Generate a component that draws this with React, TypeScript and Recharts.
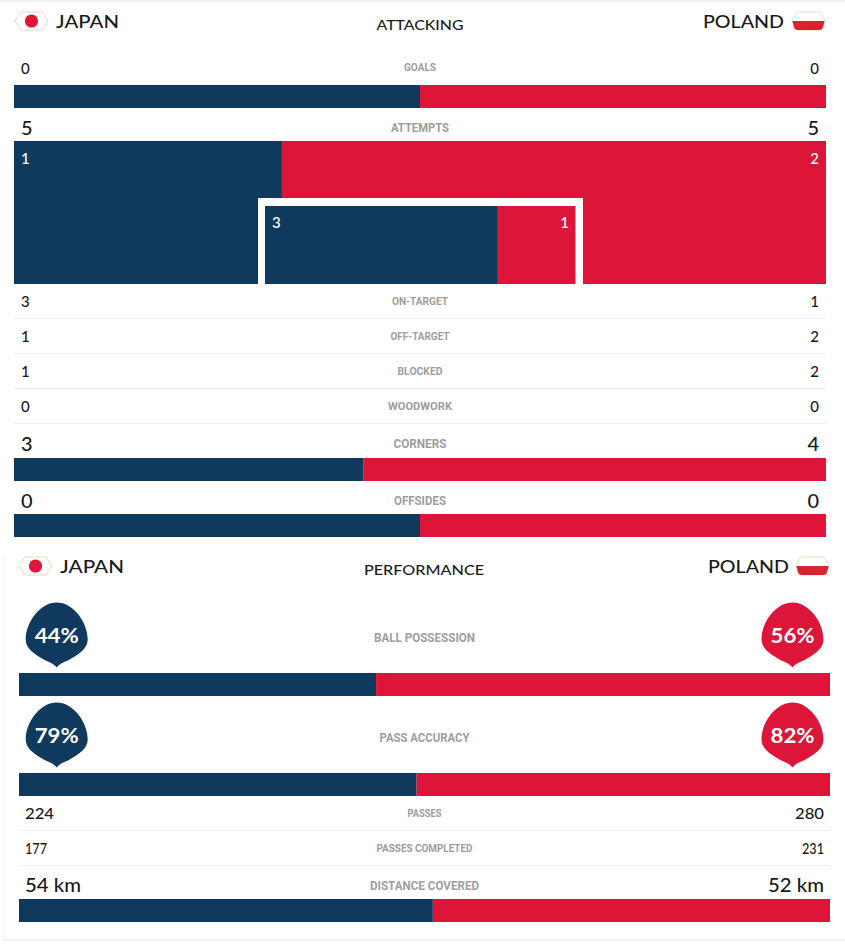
import React from "react";
import { BarChart, Bar, XAxis, YAxis } from "recharts";

const NAVY = "#10395e";
const RED = "#dc1539";
const INK = "#1a1a1a";
const GRAY = "#9e9e9e";
const RULE = "#eeeeee";

const teams = ["JAPAN", "POLAND"];
const sectionTitles = ["ATTACKING", "PERFORMANCE"];

// statistic labels and printed values
const attackLabels = ["GOALS", "ATTEMPTS", "ON-TARGET", "OFF-TARGET", "BLOCKED", "WOODWORK", "CORNERS", "OFFSIDES"];
const attackJapan = ["0", "5", "3", "1", "1", "0", "3", "0"];
const attackPoland = ["0", "5", "1", "2", "2", "0", "4", "0"];
const perfLabels = ["BALL POSSESSION", "PASS ACCURACY", "PASSES", "PASSES COMPLETED", "DISTANCE COVERED"];
const perfJapan = ["44%", "79%", "224", "177", "54 km"];
const perfPoland = ["56%", "82%", "280", "231", "52 km"];

// bar splits (share of the bar, Japan : Poland)
const goalsSplit = [50, 50];
const outerAttempts = [33, 67];
const innerAttempts = [75, 25];
const cornersSplit = [43, 57];
const offsidesSplit = [50, 50];
const possessionSplit = [44, 56];
const accuracySplit = [49, 51];
const distanceSplit = [51, 49];

type BoxProps = { split: number[]; x: number; y: number; w: number; h: number };

function SplitBar({ split, x, y, w, h }: BoxProps) {
  const data = [{ name: "bar", japan: split[0], poland: split[1] }];
  return (
    <div style={{ position: "absolute", left: x, top: y, width: w, height: h }}>
      <BarChart
        width={w}
        height={h}
        data={data}
        layout="vertical"
        stackOffset="expand"
        barCategoryGap={0}
        margin={{ top: 0, right: 0, bottom: 0, left: 0 }}
      >
        <XAxis type="number" domain={[0, 1]} hide />
        <YAxis type="category" dataKey="name" hide />
        <Bar dataKey="japan" stackId="s" fill={NAVY} isAnimationActive={false} />
        <Bar dataKey="poland" stackId="s" fill={RED} isAnimationActive={false} />
      </BarChart>
    </div>
  );
}

const BODY = "Lato, 'Open Sans', sans-serif";
const NARROW = "Roboto, sans-serif";

function Txt(p: { x: number; y: number; s: number; c?: string; a?: "start" | "middle" | "end"; f?: string; w?: number; len?: number; children: React.ReactNode }) {
  return (
    <text
      x={p.x}
      y={p.y}
      fontSize={p.s}
      fill={p.c ?? INK}
      textAnchor={p.a ?? "start"}
      dominantBaseline="central"
      fontFamily={p.f ?? BODY}
      fontWeight={p.w ?? 500}
      {...(p.len ? { textLength: p.len, lengthAdjust: "spacingAndGlyphs" } : {})}
    >
      {p.children}
    </text>
  );
}

function HexFlag({ x, y, kind }: { x: number; y: number; kind: "jp" | "pl" }) {
  const hex = "M6 0 H27 L33 9 L27 18 H6 L0 9 Z";
  const plHex = "M5 0 H28 L33 8 L31 15 Q30.5 18 27 18 H6 Q2.5 18 2 15 L0 8 Z";
  if (kind === "jp") {
    return (
      <g transform={`translate(${x},${y})`}>
        <path d={hex} fill="#fff" stroke="#e8d9bd" strokeWidth={1} />
        <circle cx={16.5} cy={9} r={6.6} fill={RED} />
      </g>
    );
  }
  return (
    <g transform={`translate(${x},${y})`}>
      <path d={plHex} fill="#fff" stroke="#eadfca" strokeWidth={1} />
      <path d="M0.4 9 H32.6 L31 15 Q30.5 18 27 18 H6 Q2.5 18 2 15 Z" fill="#d9232e" />
    </g>
  );
}

function Bubble({ cx, top, fill, label }: { cx: number; top: number; fill: string; label: string }) {
  const d = "M31 0 C47 0 62 19 62 37 C62 46 53 52 44 57 C39 59.5 34 61 31 65 C28 61 23 59.5 18 57 C9 52 0 46 0 37 C0 19 15 0 31 0 Z";
  return (
    <g>
      <path d={d} fill={fill} transform={`translate(${cx - 31},${top})`} />
      <Txt x={cx} y={top + 32} s={20} c="#fff" a="middle" w={700} len={44}>{label}</Txt>
    </g>
  );
}

// layout, kept apart from the data
const attackY = [67.5, 127, 301, 336, 371, 406, 443, 500];
const attackValSize = [15, 20, 15, 15, 15, 15, 20, 20];
const attackLabelSize = [10.5, 12.5, 10.5, 10.5, 10.5, 10.5, 12.5, 12.5];
const attackLabelLen = [32, 58, 56, 59, 45, 64, 53, 52];
const perfY = [637, 737, 813, 848, 885];
const perfLabelSize = [12.5, 12.5, 10.5, 10.5, 12.5];
const perfLabelLen = [101, 90, 34, 96, 109];
const perfValSize = [0, 0, 16, 16, 19];
const perfValLen = [0, 0, 29, 22, 56];
const attackRules = [318.5, 353.5, 388.5, 423.5];
const perfRules = [830.5, 865.5];

export default function App() {
  return (
    <div style={{ position: "absolute", left: 0, top: 0, width: 845, height: 945, background: "#fff", overflow: "hidden" }}>
      <SplitBar split={goalsSplit} x={14} y={85} w={812} h={23} />
      <SplitBar split={outerAttempts} x={14} y={141} w={812} h={143} />
      <div style={{ position: "absolute", left: 258, top: 198, width: 325, height: 86, background: "#fff" }} />
      <SplitBar split={innerAttempts} x={265} y={206} w={310.5} h={78} />
      <SplitBar split={cornersSplit} x={14} y={457.5} w={812} h={23} />
      <SplitBar split={offsidesSplit} x={14} y={514} w={812} h={23} />
      <SplitBar split={possessionSplit} x={18.5} y={673} w={811.5} h={23} />
      <SplitBar split={accuracySplit} x={18.5} y={773} w={811.5} h={23} />
      <SplitBar split={distanceSplit} x={18.5} y={899} w={811.5} h={23} />

      <svg width={845} height={945} style={{ position: "absolute", left: 0, top: 0, pointerEvents: "none" }}>
        <line x1={0} x2={845} y1={1} y2={1} stroke={RULE} strokeWidth={1.5} />
        <line x1={4} x2={4} y1={555} y2={940} stroke={RULE} strokeWidth={1} />
        <line x1={4} x2={845} y1={940} y2={940} stroke={RULE} strokeWidth={1.5} />
        {attackRules.map((y) => <line key={y} x1={14} x2={826} y1={y} y2={y} stroke={RULE} />)}
        {perfRules.map((y) => <line key={y} x1={18.5} x2={830} y1={y} y2={y} stroke={RULE} />)}

        <HexFlag x={15} y={12} kind="jp" />
        <Txt x={56} y={21} s={18} len={63}>{teams[0]}</Txt>
        <Txt x={420} y={24} s={14} a="middle" len={87}>{sectionTitles[0]}</Txt>
        <Txt x={784} y={21} s={18} a="end" len={81}>{teams[1]}</Txt>
        <HexFlag x={792} y={12} kind="pl" />

        <HexFlag x={19} y={557} kind="jp" />
        <Txt x={60} y={566} s={18} len={64}>{teams[0]}</Txt>
        <Txt x={424} y={569} s={14} a="middle" len={120}>{sectionTitles[1]}</Txt>
        <Txt x={789} y={566} s={18} a="end" len={81}>{teams[1]}</Txt>
        <HexFlag x={796} y={557} kind="pl" />

        {attackLabels.map((l, i) => (
          <g key={l}>
            <Txt x={21} y={attackY[i]} s={attackValSize[i]}>{attackJapan[i]}</Txt>
            <Txt x={420} y={attackY[i]} s={attackLabelSize[i]} c={GRAY} a="middle" f={NARROW} w={700} len={attackLabelLen[i]}>{l}</Txt>
            <Txt x={819} y={attackY[i]} s={attackValSize[i]} a="end">{attackPoland[i]}</Txt>
          </g>
        ))}

        <Txt x={21} y={158} s={15} c="#fff">1</Txt>
        <Txt x={819} y={158} s={15} c="#fff" a="end">2</Txt>
        <Txt x={272} y={222} s={15} c="#fff">3</Txt>
        <Txt x={569} y={222} s={15} c="#fff" a="end">1</Txt>

        {perfLabels.map((l, i) => (
          <g key={l}>
            {perfValSize[i] > 0 && <Txt x={25} y={perfY[i] - 1} s={perfValSize[i]} len={perfValLen[i]}>{perfJapan[i]}</Txt>}
            <Txt x={424.5} y={perfY[i]} s={perfLabelSize[i]} c={GRAY} a="middle" f={NARROW} w={700} len={perfLabelLen[i]}>{l}</Txt>
            {perfValSize[i] > 0 && <Txt x={824} y={perfY[i] - 1} s={perfValSize[i]} a="end" len={perfValLen[i]}>{perfPoland[i]}</Txt>}
          </g>
        ))}

        <Bubble cx={56.7} top={602.5} fill={NAVY} label={perfJapan[0]} />
        <Bubble cx={792.5} top={602.5} fill={RED} label={perfPoland[0]} />
        <Bubble cx={56.7} top={702.5} fill={NAVY} label={perfJapan[1]} />
        <Bubble cx={792.5} top={702.5} fill={RED} label={perfPoland[1]} />
      </svg>
    </div>
  );
}
